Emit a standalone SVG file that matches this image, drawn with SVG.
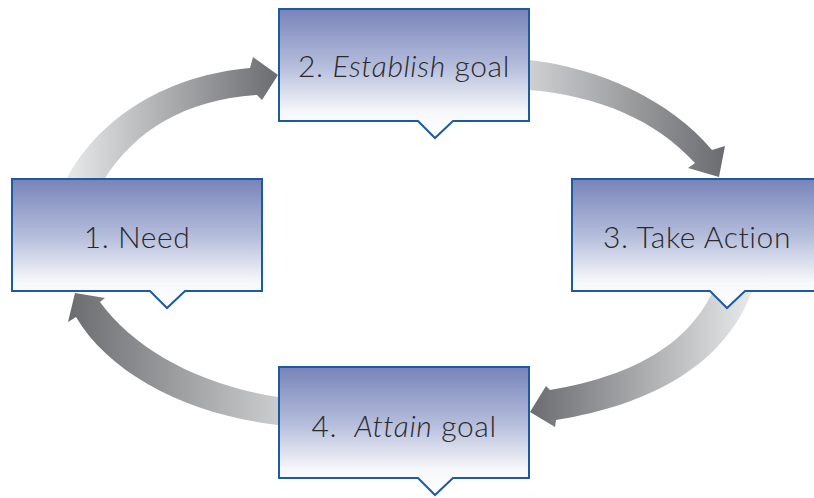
<svg xmlns="http://www.w3.org/2000/svg" width="814" height="498" viewBox="0 0 814 498">
<defs>
<style>
.box{fill:url(#boxg);stroke:#1d5ba1;stroke-width:2;stroke-linejoin:miter}
.lbl{font-family:Lato,"Noto Sans","DejaVu Sans",sans-serif;font-size:30px;font-weight:300;letter-spacing:0.6px;fill:#2a2a2c;text-anchor:middle}
.it{font-style:italic}
</style>
<linearGradient id="boxg" x1="0" y1="0" x2="0" y2="1">
<stop offset="0" stop-color="#7884ba"/>
<stop offset="0.45" stop-color="#b6bedc"/>
<stop offset="0.8" stop-color="#f7f8fb"/>
<stop offset="1" stop-color="#ffffff"/>
</linearGradient>
<linearGradient id="ga" gradientUnits="userSpaceOnUse" x1="66" y1="0" x2="278" y2="0">
<stop offset="0" stop-color="#e8e9ea"/>
<stop offset="1" stop-color="#6b6c6f"/>
</linearGradient>
<linearGradient id="gb" gradientUnits="userSpaceOnUse" x1="529" y1="0" x2="725" y2="0">
<stop offset="0" stop-color="#cfd0d2"/>
<stop offset="1" stop-color="#6b6c6f"/>
</linearGradient>
<linearGradient id="gc" gradientUnits="userSpaceOnUse" x1="752" y1="0" x2="530" y2="0">
<stop offset="0" stop-color="#e8e9ea"/>
<stop offset="1" stop-color="#6b6c6f"/>
</linearGradient>
<linearGradient id="gd" gradientUnits="userSpaceOnUse" x1="278" y1="0" x2="68" y2="0">
<stop offset="0" stop-color="#cbcccd"/>
<stop offset="1" stop-color="#6b6c6f"/>
</linearGradient>
</defs>
<rect width="814" height="498" fill="#ffffff"/>
<g id="connectors">
<path id="arrow-1-2" fill="url(#ga)" d="M66,180 C100,115 170,75 250,68 L253,57 L278,75 L262,100 L257,95 C185,100 135,130 104,180 Z"/>
<path id="arrow-2-3" fill="url(#gb)" d="M529,60 C600,68 670,100 712,150 L725,146 L719,177 L688,168 L695,163 C655,120 600,96 529,90 Z"/>
<path id="arrow-3-4" fill="url(#gc)" d="M713,291 C690,340 640,375 550,390 L546,386 L530,412 L555,427 L556,420 C650,405 725,365 752,291 Z"/>
<path id="arrow-4-1" fill="url(#gd)" d="M278,397 C200,385 135,350 100,302 L105,298 L75,293 L68,322 L76,317 C110,375 190,415 278,425 Z"/>
</g>
<g id="node-1">
<path class="box" d="M12,179 H262 V291 H185 L167,308 L150,291 H12 Z"/>
<text class="lbl" x="137" y="248">1. Need</text>
</g>
<g id="node-2">
<path class="box" d="M279,9 H529 V121 H453 L435,138 L418,121 H279 Z"/>
<text class="lbl" x="404" y="77">2. <tspan class="it">Establish</tspan> goal</text>
</g>
<g id="node-3">
<path class="box" d="M572,179 H822 V291 H745 L727,308 L710,291 H572 Z"/>
<text class="lbl" x="697" y="248">3. Take Action</text>
</g>
<g id="node-4">
<path class="box" d="M279,367 H529 V478 H453 L435,495 L418,478 H279 Z"/>
<text class="lbl" x="404" y="437" xml:space="preserve">4.  <tspan class="it">Attain</tspan> goal</text>
</g>
</svg>
